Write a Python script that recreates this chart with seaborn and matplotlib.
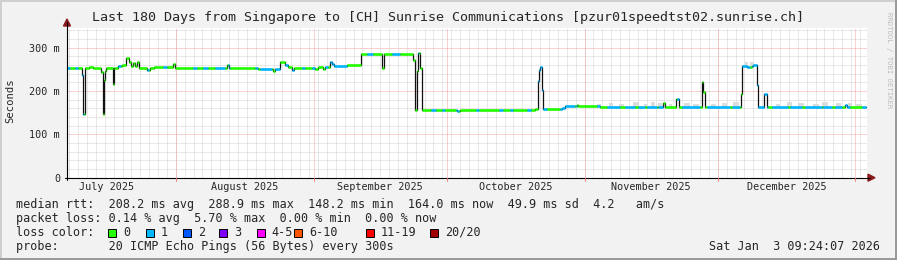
import numpy as np
import pandas as pd
import matplotlib
matplotlib.use("Agg")
import matplotlib.pyplot as plt
import seaborn as sns
from matplotlib.patches import Rectangle, Polygon
from matplotlib.lines import Line2D

# ---------------- data ----------------
START = pd.Timestamp("2025-07-07 12:00")
SPAN_DAYS = 180
title = "Last 180 Days from Singapore to [CH] Sunrise Communications [pzur01speedtst02.sunrise.ch]"

# median rtt as a step function: segment start (days after START) and value (ms)
seg_day = [0.0, 3.3, 3.53, 3.98, 5.0, 5.9, 7.6, 8.04, 8.26, 8.5, 8.78, 10.29, 10.65,
           10.8, 11.55, 12.3, 13.28, 13.9, 14.3, 14.9, 15.4, 15.7, 16.3, 18.1, 18.7,
           19.6, 23.8, 24.3, 35.95, 36.5, 42.5, 43.1, 46.4, 46.8, 47.95, 49.1, 49.8,
           50.6, 51.2, 55.8, 56.4, 57.7, 58.1, 59.2, 59.6, 60.0, 63.0, 66.1, 71.0,
           71.4, 78.0, 78.3, 78.7, 79.1, 79.5, 79.9, 87.7, 88.5, 105.4, 106.0, 106.3,
           106.55, 106.85, 107.1, 111.4, 112.1, 114.75, 115.1, 120.0, 134.2, 134.7,
           137.2, 137.8, 142.9, 143.2, 143.55, 151.7, 152.0, 153.0, 154.1, 154.5,
           155.3, 155.5, 157.0, 157.5, 175.1, 175.5]
seg_ms = [252, 237, 148, 252, 255, 252, 244, 148, 225, 245, 252, 217, 252,
          254, 257, 260, 275, 266, 258, 264, 258, 268, 252, 248, 252,
          255, 262, 253, 261, 252, 253, 251, 247, 251, 268, 259, 256,
          248, 253, 251, 256, 251, 256, 267, 262, 257, 261, 286, 253,
          286, 271, 157, 245, 287, 252, 157, 154, 157, 159, 223, 248,
          255, 202, 159, 160.5, 164.5, 168, 164.5, 164, 172, 162,
          182, 162, 221, 198, 162, 192, 257, 255.5, 258.5, 261,
          213, 162, 192, 163, 168, 162]
line_end_day = 179.9

# periods with 1 lost ping (blue); everything else 0 loss (green)
blue_from = [0.0, 1.8, 3.38, 11.48, 18.0, 21.6, 28.4, 30.6, 33.3, 36.2, 42.3, 43.4,
             46.8, 49.1, 50.6, 52.9, 55.2, 58.1, 59.2, 67.5, 73.2, 79.0, 82.0, 84.5,
             87.5, 92.0, 97.2, 99.8, 103.6, 106.0, 111.0, 114.6, 119.3, 121.6, 125.6,
             128.6, 130.6, 133.0, 137.3, 138.5, 144.1, 149.7, 152.0, 154.2, 158.7,
             162.8, 166.1, 170.2, 172.9, 175.2, 178.9]
blue_to = [0.68, 2.48, 3.83, 12.16, 18.46, 22.5, 29.3, 31.7, 35.6, 36.7, 43.0, 46.1,
           47.95, 49.7, 51.1, 53.6, 55.8, 58.8, 63.0, 68.9, 75.0, 79.2, 83.0, 85.0,
           88.3, 92.8, 98.2, 100.5, 104.4, 108.1, 114.4, 114.8, 120.0, 124.5, 127.9,
           130.1, 132.8, 134.2, 137.8, 142.5, 149.3, 151.5, 153.8, 157.8, 162.3,
           165.5, 170.0, 172.2, 174.5, 176.3, 179.8]

# grey "smoke" (spread of the pings): from, to (days), lower and upper ms
smoke_from = [119.2, 122.0, 124.3, 127.5, 129.8, 131.5, 133.0, 135.5, 139.0, 141.0,
              145.0, 147.5, 150.0, 152.6, 153.8, 159.5, 162.0, 164.5, 168.0, 170.0,
              173.0, 175.8, 177.5]
smoke_to = [120.2, 123.0, 125.5, 128.8, 130.6, 132.4, 134.0, 136.3, 140.2, 142.3,
            146.0, 148.6, 151.3, 153.3, 154.6, 160.5, 163.2, 165.8, 169.2, 171.2,
            174.2, 176.8, 179.0]
smoke_lo = [163, 163, 163, 163, 163, 163, 163, 161, 161, 161, 161, 161, 161, 256,
            256, 162, 162, 162, 162, 162, 162, 162, 162]
smoke_hi = [170, 172, 169, 174, 171, 175, 173, 170, 172, 170, 169, 172, 174, 266,
            268, 171, 175, 172, 170, 174, 173, 172, 171]

month_labels = ["July 2025", "August 2025", "September 2025", "October 2025",
                "November 2025", "December 2025"]
month_starts = ["2025-07-01", "2025-08-01", "2025-09-01", "2025-10-01",
                "2025-11-01", "2025-12-01", "2026-01-01"]
y_ticks = [0, 100, 200, 300]
y_tick_labels = ["0", "100 m", "200 m", "300 m"]
y_max = 346

loss_labels = ["0", "1", "2", "3", "4-5", "6-10", "11-19", "20/20"]
loss_colors = ["#26ff00", "#00b8ff", "#0059ff", "#7e00ff", "#ff00ff", "#ff5500",
               "#ff0000", "#a10000"]

line_rtt = "median rtt:  208.2 ms avg  288.9 ms max  148.2 ms min  164.0 ms now  49.9 ms sd  4.2   am/s"
line_loss = "packet loss: 0.14 % avg  5.70 % max  0.00 % min  0.00 % now"
line_probe = "probe:       20 ICMP Echo Pings (56 Bytes) every 300s"
stamp = "Sat Jan  3 09:24:07 2026"

# ---------------- figure ----------------
sns.set_style("white")
plt.rcParams["font.family"] = ["DejaVu Sans Mono"]
W, H = 897, 260
fig = plt.figure(figsize=(W / 100, H / 100), dpi=100)
fig.patch.set_facecolor("#f2f2f2")

def fx(x):
    return x / W

def fy(y):
    return 1 - y / H

AX_L, AX_R, AX_B, AX_T = 67, 866.6, 177.7, 27.7
ax = fig.add_axes([fx(AX_L), fy(AX_B), (AX_R - AX_L) / W, (AX_B - AX_T) / H])
ax.set_facecolor("white")
END = START + pd.Timedelta(days=SPAN_DAYS)
ax.set_xlim(START, END)
ax.set_ylim(0, y_max)
for s in ax.spines.values():
    s.set_visible(False)

dot = (0, (1, 1))
minor_col, major_col = "#d2d2d2", "#f4a4a4"
# minor grid
for v in range(20, y_max, 20):
    if v % 100:
        ax.axhline(v, color=minor_col, lw=0.72, ls=dot, zorder=0)
gd = pd.Timestamp("2025-07-08")
while gd < END:
    ax.axvline(gd, color=minor_col, lw=0.72, ls=dot, zorder=0)
    gd += pd.Timedelta(days=2)
# major grid
for v in y_ticks[1:]:
    ax.axhline(v, color=major_col, lw=0.72, ls=dot, zorder=0.5)
for m in month_starts:
    t = pd.Timestamp(m)
    if START < t < END:
        ax.axvline(t, color=major_col, lw=0.72, ls=dot, zorder=0.5)

# smoke
for a, b, lo, hi in zip(smoke_from, smoke_to, smoke_lo, smoke_hi):
    ta = START + pd.Timedelta(days=a)
    tb = START + pd.Timedelta(days=b)
    ax.fill_between([ta, tb], [lo, lo], [hi, hi], color="#dcdcdc", lw=0, zorder=1)

# median line (black, thin)
days = np.array(seg_day + [line_end_day])
vals = np.array(seg_ms + [seg_ms[-1]])
df = pd.DataFrame({"t": START + pd.to_timedelta(days, unit="D"), "ms": vals})
sns.lineplot(data=df, x="t", y="ms", drawstyle="steps-post", color="#111111",
             lw=0.9, ax=ax, zorder=2)

# loss-coloured overlay (horizontal pieces)
edges = sorted(set(seg_day + blue_from + blue_to + [line_end_day]))
edges = [e for e in edges if e <= line_end_day]
sd = np.array(seg_day)
x0s, x1s, ys, cs = [], [], [], []
for a, b in zip(edges[:-1], edges[1:]):
    mid = (a + b) / 2
    v = seg_ms[np.searchsorted(sd, a, side="right") - 1]
    blue = any(f <= mid < t for f, t in zip(blue_from, blue_to))
    x0s.append(START + pd.Timedelta(days=a))
    x1s.append(START + pd.Timedelta(days=b))
    ys.append(v)
    cs.append(loss_colors[1] if blue else loss_colors[0])
ax.hlines(ys, x0s, x1s, colors=cs, lw=1.9, zorder=3)

# ticks
mids = []
for a, b in zip(month_starts[:-1], month_starts[1:]):
    ta, tb = pd.Timestamp(a), pd.Timestamp(b)
    mids.append(ta + (tb - ta) / 2)
ax.set_xticks(mids)
ax.set_xticklabels(month_labels, fontsize=7.3)
ax.set_yticks(y_ticks)
ax.set_yticklabels(y_tick_labels, fontsize=7.3)
ax.tick_params(axis="x", length=0, pad=3.0)
ax.tick_params(axis="y", length=0, pad=5.0)
ax.set_xlabel("")
ax.set_ylabel("")

# axes lines with arrows
fig.add_artist(Line2D([fx(AX_L), fx(AX_L)], [fy(AX_B + 2), fy(22)], color="black", lw=0.8))
fig.add_artist(Line2D([fx(AX_L - 2), fx(870)], [fy(AX_B), fy(AX_B)], color="black", lw=0.8))
fig.add_artist(Polygon([[fx(AX_L - 3.5), fy(26)], [fx(AX_L + 3.5), fy(26)], [fx(AX_L), fy(19)]],
                       closed=True, color="#8b1a1a", transform=fig.transFigure))
fig.add_artist(Polygon([[fx(868), fy(AX_B - 3.5)], [fx(868), fy(AX_B + 3.5)], [fx(875), fy(AX_B)]],
                       closed=True, color="#8b1a1a", transform=fig.transFigure))
for m in month_starts:
    t = pd.Timestamp(m)
    if START < t < END:
        xp = AX_L + (t - START) / pd.Timedelta(days=1) * (AX_R - AX_L) / SPAN_DAYS
        fig.add_artist(Line2D([fx(xp), fx(xp)], [fy(AX_B), fy(AX_B + 3)], color="#f08080", lw=0.72))

# titles
fig.text(fx(448), fy(18), title, fontsize=9.6, ha="center", va="center")
fig.text(fx(10), fy(101), "Seconds", fontsize=7.6, rotation=90, ha="center", va="center")
fig.text(fx(889), fy(60), "RRDTOOL / TOBI OETIKER", fontsize=5.2, rotation=-90,
         ha="center", va="center", color="#bdbdbd")

# legend lines
fs = 8.5
fig.text(fx(16), fy(204.3), line_rtt, fontsize=fs, va="center")
fig.text(fx(16), fy(218.3), line_loss, fontsize=fs, va="center")
fig.text(fx(16), fy(232.3), "loss color:", fontsize=fs, va="center")
box_x = [108.3, 145.7, 182.7, 219.3, 256.7, 294.3, 365.7, 430.0]
for bx, lab, col in zip(box_x, loss_labels, loss_colors):
    fig.add_artist(Rectangle((fx(bx), fy(236.5)), 8 / W, 8 / H, transform=fig.transFigure,
                             facecolor=col, edgecolor="black", lw=0.7))
    fig.text(fx(bx + 15), fy(232.3), lab, fontsize=fs, va="center")
fig.text(fx(16), fy(246.3), line_probe, fontsize=fs, va="center")
fig.text(fx(880), fy(246.3), stamp, fontsize=fs, va="center", ha="right")

# 3D frame
fig.add_artist(Rectangle((0, fy(2)), 1, 2 / H, transform=fig.transFigure, color="#cfcfcf", lw=0))
fig.add_artist(Rectangle((0, 0), 2 / W, 1, transform=fig.transFigure, color="#cfcfcf", lw=0))
fig.add_artist(Rectangle((0, 0), 1, 2 / H, transform=fig.transFigure, color="#9a9a9a", lw=0))
fig.add_artist(Rectangle((fx(W - 2), 0), 2 / W, 1, transform=fig.transFigure, color="#9a9a9a", lw=0))

fig.savefig("out.png", dpi=100, facecolor=fig.get_facecolor())
